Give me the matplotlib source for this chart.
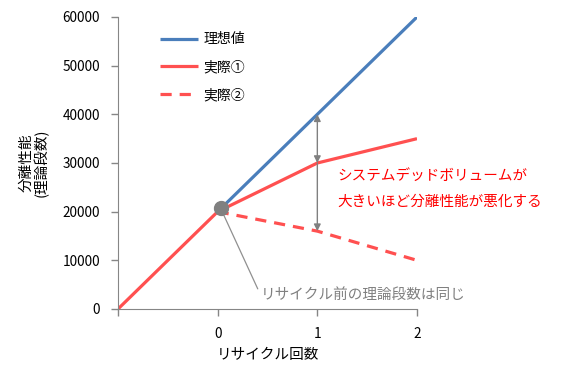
import matplotlib
matplotlib.use('Agg')
import matplotlib.pyplot as plt

plt.rcParams['font.family'] = ['Noto Sans CJK JP', 'DejaVu Sans']

# data
x_ideal = [0, 1, 2]
ideal = [20000, 40000, 60000]
x_real1 = [-1, 0, 1, 2]
real1 = [0, 20000, 30000, 35000]
x_real2 = [0, 1, 2]
real2 = [20000, 16000, 10000]
x_ticks = [-1, 0, 1, 2]
x_ticklabels = ['', '0', '1', '2']
y_ticks = [0, 10000, 20000, 30000, 40000, 50000, 60000]

blue = '#4A7EBB'
red = '#FF5050'
gray = '#868686'

fig = plt.figure(figsize=(5.84, 3.71), dpi=100)
ax = fig.add_axes([118 / 584, 1 - 309 / 371, 299 / 584, 292 / 371])

ax.plot(x_ideal, ideal, color=blue, lw=2.3, label='理想値', solid_capstyle='butt')
ax.plot(x_real1, real1, color=red, lw=2.3, label='実際①', solid_capstyle='butt')
ax.plot(x_real2, real2, color=red, lw=2.3, ls=(0, (3.5, 2.5)), label='実際②')

ax.plot([0.03], [20700], 'o', color='#808080', ms=10, zorder=5)

# arrows between ideal and real at x=1
ax.annotate('', xy=(1, ideal[1]), xytext=(1, real1[2]),
            arrowprops=dict(arrowstyle='<|-|>', color='#808080', lw=1,
                            shrinkA=0, shrinkB=0, mutation_scale=10))
ax.annotate('', xy=(1, real2[1]), xytext=(1, real1[2]),
            arrowprops=dict(arrowstyle='-|>', color='#808080', lw=1,
                            shrinkA=0, shrinkB=0, mutation_scale=10))

ax.annotate('リサイクル前の理論段数は同じ', xy=(0.05, 19800), xytext=(0.43, 2900),
            color='#808080', fontsize=10.5, va='center', ha='left',
            arrowprops=dict(arrowstyle='-', color='#909090', lw=0.9,
                            shrinkA=0, shrinkB=0, relpos=(0, 0.5)))

ax.text(1.2, 27300, 'システムデッドボリュームが', color='#FF0000', fontsize=10.5, va='center')
ax.text(1.2, 22000, '大きいほど分離性能が悪化する', color='#FF0000', fontsize=10.5, va='center')

ax.set_xlim(-1, 2)
ax.set_ylim(0, 60000)
ax.set_xticks(x_ticks)
ax.set_xticklabels(x_ticklabels)
ax.set_yticks(y_ticks)
for s in ['top', 'right']:
    ax.spines[s].set_visible(False)
for s in ['left', 'bottom']:
    ax.spines[s].set_color(gray)
ax.tick_params(axis='both', colors=gray, labelcolor='black', labelsize=9.8,
               length=5, width=1)
ax.tick_params(axis='x', pad=8)
ax.tick_params(axis='y', pad=8)

ax.set_xlabel('リサイクル回数', fontsize=10.5, labelpad=5)
ax.set_ylabel('分離性能\n(理論段数)', fontsize=10.5, labelpad=10, linespacing=1.0)

leg = ax.legend(loc='upper left', bbox_to_anchor=(0.1, 0.99), frameon=False,
                fontsize=10, handlelength=2.7, handletextpad=0.4,
                labelspacing=1.0)

fig.savefig('out.png', dpi=100)
